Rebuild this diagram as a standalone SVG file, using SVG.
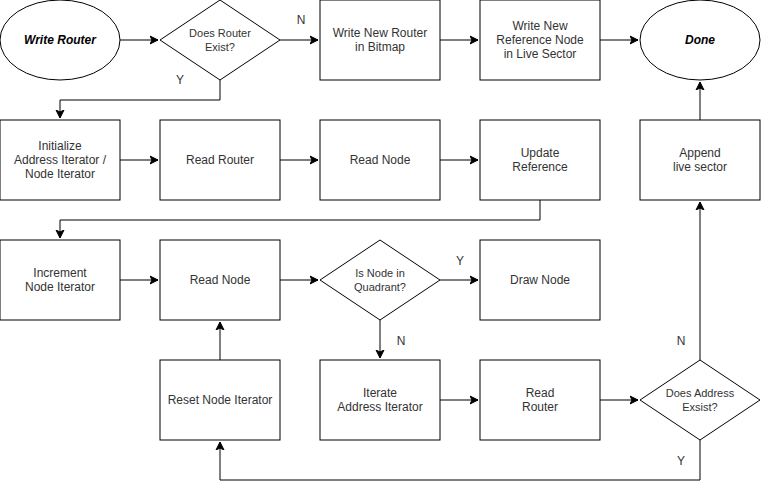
<svg xmlns="http://www.w3.org/2000/svg" width="761" height="490" viewBox="0 0 761 490">
<style>
.s{fill:#fff;stroke:#000;stroke-width:1}
.t{font-family:"Liberation Sans",Arial,sans-serif;font-size:12px;fill:#333;text-anchor:middle}
.d{font-size:11px}
.i{font-style:italic;font-weight:bold;fill:#000}
.c{fill:none;stroke:#000;stroke-width:1;marker-end:url(#a)}
</style>
<defs>
<marker id="a" markerUnits="userSpaceOnUse" markerWidth="10" markerHeight="10" refX="8" refY="4.5" orient="auto" viewBox="0 0 10 9">
<path d="M0,0.5 L8,4.5 L0,8.5 L2,4.5 z" fill="#000" stroke="#000" stroke-width="1"/>
</marker>
</defs>
<rect width="761" height="490" fill="#fff"/>
<g id="connectors">
<path class="c" d="M120,40 H158"/>
<path class="c" d="M280,40 H318"/>
<path class="c" d="M220,80 V100 H60 V118"/>
<path class="c" d="M440,40 H478"/>
<path class="c" d="M600,40 H638"/>
<path class="c" d="M700,120 V82"/>
<path class="c" d="M120,160 H158"/>
<path class="c" d="M280,160 H318"/>
<path class="c" d="M440,160 H478"/>
<path class="c" d="M540,200 V220 H60 V238"/>
<path class="c" d="M120,280 H158"/>
<path class="c" d="M280,280 H318"/>
<path class="c" d="M440,280 H478"/>
<path class="c" d="M380,320 V358"/>
<path class="c" d="M220,360 V322"/>
<path class="c" d="M440,400 H478"/>
<path class="c" d="M600,400 H638"/>
<path class="c" d="M700,360 V202"/>
<path class="c" d="M700,440 V480 H220 V442"/>
<text class="t" x="301" y="24">N</text>
<text class="t" x="180" y="84">Y</text>
<text class="t" x="460" y="265">Y</text>
<text class="t" x="401" y="345">N</text>
<text class="t" x="681" y="345">N</text>
<text class="t" x="681" y="465">Y</text>
</g>
<g id="write-router"><ellipse class="s" cx="60" cy="40" rx="60" ry="40"/><text class="t i" x="60" y="44">Write Router</text></g>
<g id="does-router-exist"><path class="s" d="M220,0 L280,40 L220,80 L160,40 z"/><text class="t d" x="220" y="37">Does Router</text><text class="t d" x="220" y="51">Exist?</text></g>
<g id="write-new-router"><rect class="s" x="320" y="0" width="120" height="80"/><text class="t" x="380" y="37">Write New Router</text><text class="t" x="380" y="51">in Bitmap</text></g>
<g id="write-new-reference"><rect class="s" x="480" y="0" width="120" height="80"/><text class="t" x="540" y="30">Write New</text><text class="t" x="540" y="44">Reference Node</text><text class="t" x="540" y="58">in Live Sector</text></g>
<g id="done"><ellipse class="s" cx="700" cy="40" rx="60" ry="40"/><text class="t i" x="700" y="44">Done</text></g>
<g id="initialize"><rect class="s" x="0" y="120" width="120" height="80"/><text class="t" x="60" y="150">Initialize</text><text class="t" x="60" y="164">Address Iterator /</text><text class="t" x="60" y="178">Node Iterator</text></g>
<g id="read-router-1"><rect class="s" x="160" y="120" width="120" height="80"/><text class="t" x="220" y="164">Read Router</text></g>
<g id="read-node-1"><rect class="s" x="320" y="120" width="120" height="80"/><text class="t" x="380" y="164">Read Node</text></g>
<g id="update-reference"><rect class="s" x="480" y="120" width="120" height="80"/><text class="t" x="540" y="157">Update</text><text class="t" x="540" y="171">Reference</text></g>
<g id="append-live-sector"><rect class="s" x="640" y="120" width="120" height="80"/><text class="t" x="700" y="157">Append</text><text class="t" x="700" y="171">live sector</text></g>
<g id="increment-node-iterator"><rect class="s" x="0" y="240" width="120" height="80"/><text class="t" x="60" y="277">Increment</text><text class="t" x="60" y="291">Node Iterator</text></g>
<g id="read-node-2"><rect class="s" x="160" y="240" width="120" height="80"/><text class="t" x="220" y="284">Read Node</text></g>
<g id="is-node-in-quadrant"><path class="s" d="M380,240 L440,280 L380,320 L320,280 z"/><text class="t d" x="380" y="277">Is Node in</text><text class="t d" x="380" y="291">Quadrant?</text></g>
<g id="draw-node"><rect class="s" x="480" y="240" width="120" height="80"/><text class="t" x="540" y="284">Draw Node</text></g>
<g id="reset-node-iterator"><rect class="s" x="160" y="360" width="120" height="80"/><text class="t" x="220" y="404">Reset Node Iterator</text></g>
<g id="iterate-address-iterator"><rect class="s" x="320" y="360" width="120" height="80"/><text class="t" x="380" y="397">Iterate</text><text class="t" x="380" y="411">Address Iterator</text></g>
<g id="read-router-2"><rect class="s" x="480" y="360" width="120" height="80"/><text class="t" x="540" y="397">Read</text><text class="t" x="540" y="411">Router</text></g>
<g id="does-address-exist"><path class="s" d="M700,360 L760,400 L700,440 L640,400 z"/><text class="t d" x="700" y="397">Does Address</text><text class="t d" x="700" y="411">Exsist?</text></g>
</svg>
